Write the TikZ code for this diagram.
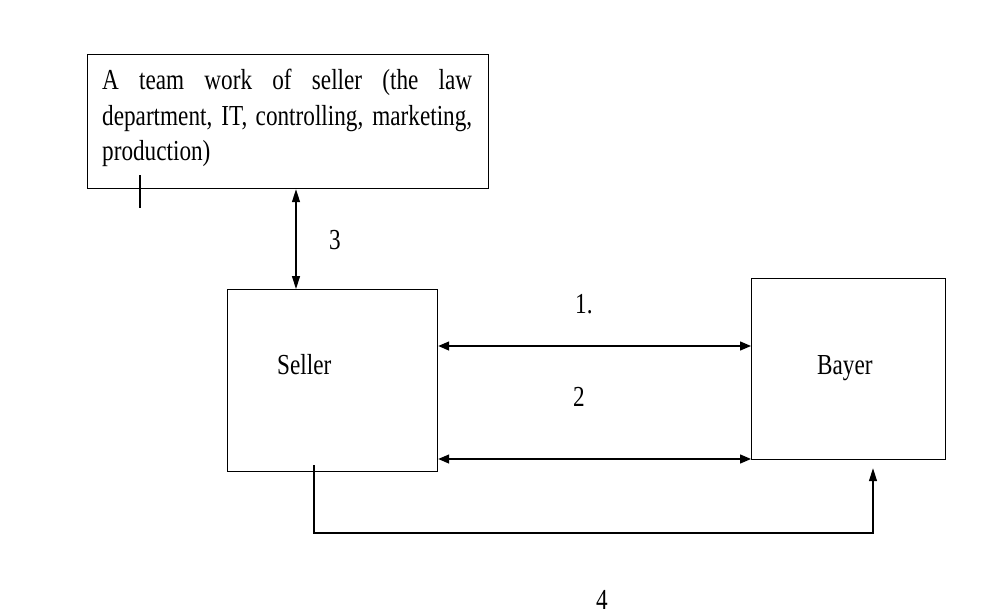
\documentclass[tikz,border=0pt]{standalone}
\usepackage{fontspec}
\setmainfont[FakeStretch=0.8]{Liberation Serif}
\usetikzlibrary{arrows.meta}

\tikzset{
  hd/.tip={Triangle[length=11pt,width=9pt]},
  vhd/.tip={Triangle[length=13pt,width=8pt]},
  box/.style={draw, line width=1.2pt, rectangle, inner sep=0pt, anchor=north west},
  lbl/.style={anchor=base west, inner sep=0pt, font=\fontsize{29pt}{35pt}\selectfont},
  link/.style={line width=1.4pt},
}

\begin{document}
\begin{tikzpicture}[x=1pt, y=-1pt]
  \useasboundingbox (0,0) rectangle (1002,616);

  % boxes
  \node[box, minimum width=401pt, minimum height=134pt] (team) at (87,54) {};
  \node[box, minimum width=210pt, minimum height=182pt] (seller) at (227,289) {};
  \node[box, minimum width=194pt, minimum height=181pt] (bayer) at (751,278) {};

  % team box text, first two lines justified
  \node[lbl] (t1) at (102,89) {\makebox[370pt][s]{A team work of seller (the law}};
  \node[lbl] (t2) at (102,125) {\makebox[370pt][s]{department, IT, controlling, marketing,}};
  \node[lbl] (t3) at (102,160) {production)};

  \node[lbl] (sellertext) at (277,374) {Seller};
  \node[lbl] (bayertext) at (817,374) {Bayer};

  % reference coordinates for the connectors
  \coordinate (a3) at (296,0);
  \coordinate (a1) at (0,346);
  \coordinate (a2) at (0,459);
  \coordinate (s4) at (314,0);
  \coordinate (e4) at (873,0);
  \coordinate (b4) at (0,533);

  % team <-> seller
  \draw[link, {vhd}-{vhd}] (team.south -| a3) -- (seller.north -| a3);
  \node[lbl] (n3) at (329,249) {3};

  % seller <-> bayer
  \draw[link, {hd}-{hd}] (seller.east |- a1) -- (bayer.west |- a1);
  \node[lbl] (n1) at (575,313) {1.};
  \draw[link, {hd}-{hd}] (seller.east |- a2) -- (bayer.west |- a2);
  \node[lbl] (n2) at (573,406) {2};

  % seller -> bayer, routed underneath
  \draw[line width=1.2pt, -{vhd}] ([yshift=7pt]seller.south -| s4) -- (s4 |- b4) -- (e4 |- b4) -- ([yshift=-8pt]bayer.south -| e4);
  \node[lbl] (n4) at (596,609) {4};

  % small tick mark under the team box
  \draw[line width=2.2pt] (140,175) -- (140,208);
\end{tikzpicture}
\end{document}
